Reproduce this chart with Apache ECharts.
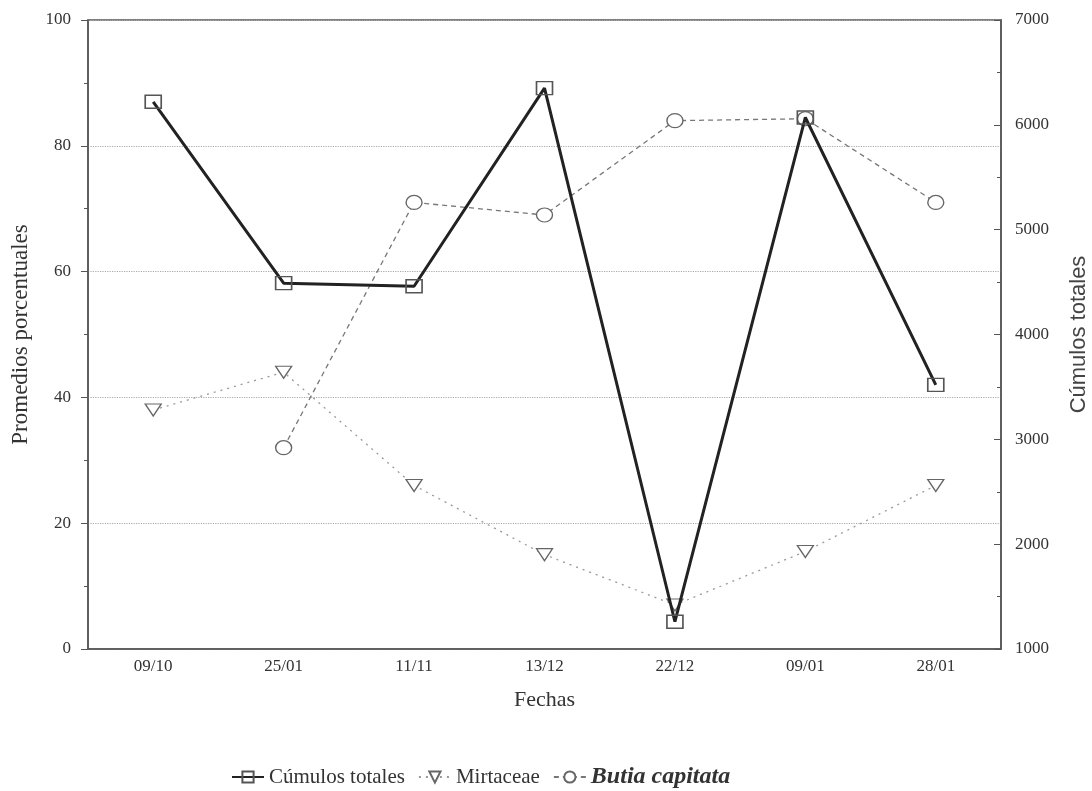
<!DOCTYPE html>
<html>
<head>
<meta charset="utf-8">
<script src="https://cdn.jsdelivr.net/npm/echarts@6/dist/echarts.min.js"></script>
<style>html,body{margin:0;padding:0;background:#fff}#c{width:1092px;height:791px}</style>
</head>
<body>
<div id="c"></div>
<script>
const categories = ['09/10','25/01','11/11','13/12','22/12','09/01','28/01'];
const cumulos = [6220, 4490, 4460, 6350, 1260, 6070, 3520];
const mirtaceae = [38, 44, 26, 15, 7, 15.5, 26];
const butia = [null, 32, 71, 69, 84, 84.3, 71];
const leftTicks = [0, 20, 40, 60, 80, 100];
const rightTicks = [1000, 2000, 3000, 4000, 5000, 6000, 7000];

const FONT = '"Liberation Serif", "DejaVu Serif", serif';
const SANS = '"Liberation Sans", Arial, sans-serif';
const chart = echarts.init(document.getElementById('c'));
const tickLabel = {fontFamily: FONT, fontSize: 17, color: '#333'};
chart.setOption({
  backgroundColor: '#fff',
  animation: false,
  grid: {left: 88, right: 91, top: 20, bottom: 142, outerBoundsMode: 'none', containLabel: false,
         show: true, borderColor: '#555', borderWidth: 1.5, backgroundColor: 'transparent'},
  legend: {
    top: 760, left: 226, itemWidth: 32, itemHeight: 14, itemGap: 13,
    textStyle: {fontFamily: FONT, fontSize: 21, color: '#333'},
    data: [
      {name: 'Cúmulos totales'},
      {name: 'Mirtaceae'},
      {name: 'Butia capitata', textStyle: {fontStyle: 'italic', fontWeight: 'bold', fontSize: 24}}
    ]
  },
  xAxis: {
    type: 'category', data: categories, boundaryGap: true,
    name: 'Fechas', nameLocation: 'middle', nameGap: 40,
    nameTextStyle: {fontFamily: FONT, fontSize: 22, color: '#333'},
    axisLine: {lineStyle: {color: '#555', width: 1.5}},
    axisTick: {alignWithLabel: true, length: 7, lineStyle: {color: '#555'}},
    axisLabel: Object.assign({margin: 9}, tickLabel)
  },
  yAxis: [
    {
      type: 'value', min: leftTicks[0], max: leftTicks[leftTicks.length-1], interval: 20, position: 'left',
      name: 'Promedios porcentuales', nameLocation: 'middle', nameGap: 56, nameRotate: 90,
      nameTextStyle: {fontFamily: FONT, fontSize: 23, color: '#333'},
      axisLine: {show: true, lineStyle: {color: '#555', width: 1.5}},
      axisTick: {show: true, length: 7, lineStyle: {color: '#555'}},
      minorTick: {show: true, splitNumber: 2, length: 4, lineStyle: {color: '#555'}},
      axisLabel: Object.assign({margin: 17}, tickLabel),
      splitLine: {show: true, lineStyle: {color: '#aaa', type: 'dotted', width: 1.2}}
    },
    {
      type: 'value', min: rightTicks[0], max: rightTicks[rightTicks.length-1], interval: 1000, position: 'right',
      name: 'Cúmulos totales', nameLocation: 'middle', nameGap: 67, nameRotate: 90,
      nameTextStyle: {fontFamily: SANS, fontSize: 22, color: '#444'},
      axisLine: {show: true, lineStyle: {color: '#555', width: 1.5}},
      axisTick: {show: true, length: 7, inside: true, lineStyle: {color: '#555'}},
      minorTick: {show: true, splitNumber: 2, length: 4, lineStyle: {color: '#555'}},
      axisLabel: Object.assign({margin: 14, formatter: v => String(v)}, tickLabel),
      splitLine: {show: false}
    }
  ],
  series: [
    {
      name: 'Cúmulos totales', type: 'line', yAxisIndex: 1, data: cumulos,
      symbol: 'rect', symbolSize: [16, 13],
      lineStyle: {color: '#222', width: 3},
      itemStyle: {color: 'rgba(255,255,255,0)', borderColor: '#555', borderWidth: 1.5},
      z: 3
    },
    {
      name: 'Mirtaceae', type: 'line', yAxisIndex: 0, data: mirtaceae,
      symbol: 'triangle', symbolRotate: 180, symbolSize: [16, 12],
      lineStyle: {color: '#999', width: 1.3, type: [2, 5]},
      itemStyle: {color: '#fff', borderColor: '#666', borderWidth: 1.3},
      z: 2
    },
    {
      name: 'Butia capitata', type: 'line', yAxisIndex: 0, data: butia,
      symbol: 'circle', symbolSize: [16, 14],
      lineStyle: {color: '#777', width: 1.3, type: [5, 4]},
      itemStyle: {color: '#fff', borderColor: '#666', borderWidth: 1.3},
      z: 2
    }
  ]
});
</script>
</body>
</html>
